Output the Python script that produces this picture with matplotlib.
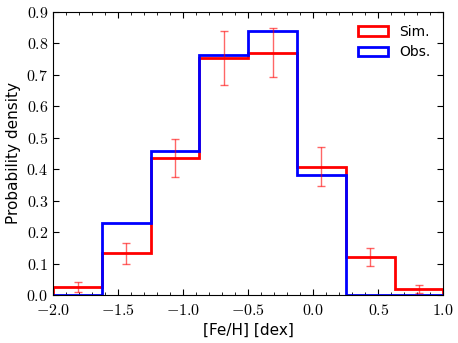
import numpy as np
import matplotlib
matplotlib.use("Agg")
from matplotlib import pyplot as plt
from matplotlib.ticker import MultipleLocator, FuncFormatter

# bin edges in [Fe/H]
edges = [-2.0, -1.625, -1.25, -0.875, -0.5, -0.125, 0.25, 0.625, 1.0]
sim = [0.026, 0.133, 0.435, 0.755, 0.771, 0.408, 0.121, 0.019]
sim_err = [0.015, 0.033, 0.060, 0.086, 0.079, 0.062, 0.030, 0.012]
obs = [0.0, 0.229, 0.457, 0.762, 0.839, 0.382, 0.0, 0.0]

plt.rcParams['mathtext.fontset'] = 'cm'

centers = [(a + b) / 2 for a, b in zip(edges[:-1], edges[1:])]

fig = plt.figure(figsize=(4.58, 3.43), dpi=100)
ax = fig.add_axes([0.116, 0.14, 0.852, 0.825])

ax.hist(centers, bins=edges, weights=sim, histtype='step', color='red',
        lw=2, label='Sim.')
ax.hist(centers, bins=edges, weights=obs, histtype='step', color='blue',
        lw=2, label='Obs.')
ax.errorbar(centers, sim, yerr=sim_err, fmt='none', ecolor='red',
            alpha=0.6, elinewidth=1, capsize=3)

ax.set_xlim(-2.0, 1.0)
ax.set_ylim(0.0, 0.9)
ax.xaxis.set_major_locator(MultipleLocator(0.5))
ax.xaxis.set_minor_locator(MultipleLocator(0.1))
ax.yaxis.set_major_locator(MultipleLocator(0.1))
fmt = FuncFormatter(lambda v, p: r'$%.1f$' % v)
ax.xaxis.set_major_formatter(fmt)
ax.yaxis.set_major_formatter(fmt)
ax.tick_params(which='both', direction='in', top=True, right=True,
               labelsize=11.5)
ax.tick_params(which='major', length=4)
ax.tick_params(which='minor', length=2)
ax.tick_params(axis='x', which='major', pad=5.5)

ax.set_xlabel('[Fe/H] [dex]', fontsize=11)
ax.set_ylabel('Probability density', fontsize=11)
ax.legend(loc='upper right', frameon=False, fontsize=10,
          handlelength=2.2)

fig.savefig('out.png', dpi=100)
